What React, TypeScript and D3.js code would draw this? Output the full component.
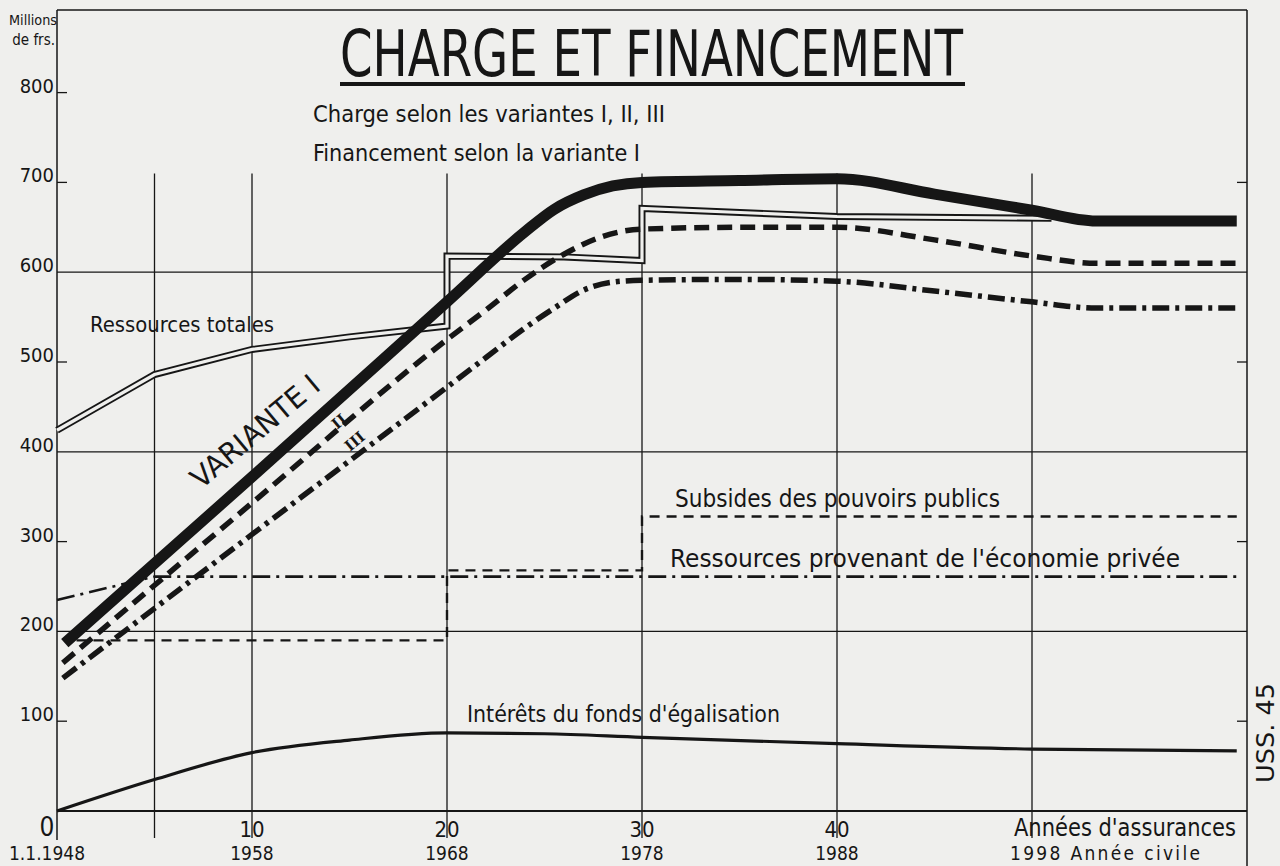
import * as d3 from "d3";

// axis ticks and labels
const yearTicks = [0, 10, 20, 30, 40];
const calendarLabels = ["1.1.1948", "1958", "1968", "1978", "1988"];
const yLabelTicks = [100, 200, 300, 400, 500, 600, 700, 800];
const gridRows = [0, 200, 400, 600];
const shortTicks = [100, 300, 500, 700, 800];
const rightTicks = [100, 300, 500, 700];
const gridCols = [5, 10, 20, 30, 40, 50];

// series: [année d'assurance, millions de frs.]
const varianteI: [number, number][] = [
  [0.4, 187], [10, 372], [20, 567], [24, 645], [25.5, 670], [27, 686], [28.5, 696],
  [30, 700], [35, 702], [40, 704], [45, 687], [50, 669], [53.3, 657], [60.5, 657],
];
const varianteII: [number, number][] = [
  [0.3, 165], [10, 343], [20, 525], [22, 558], [24, 592], [26, 620], [28, 640],
  [30, 648], [35, 650], [40, 650], [45, 636], [50, 618], [53.3, 610], [60.5, 610],
];
const varianteIII: [number, number][] = [
  [0.3, 148], [10, 308], [20, 472], [22, 505], [24, 538], [25.5, 560], [27, 580],
  [28.5, 589], [30, 591], [35, 592], [40, 590], [45, 579], [50, 567], [53.3, 560], [60.5, 560],
];
const ressourcesTotales: [number, number][] = [
  [0, 424], [5, 486], [10, 514], [15, 528], [20, 540], [20, 618], [26, 617],
  [30, 613], [30, 671], [40, 662], [51, 660],
];
const subsides: [number, number][] = [
  [1, 190], [20, 190], [20, 268], [30, 268], [30, 328], [60.5, 328],
];
const economiePrivee: [number, number][] = [
  [0, 235], [5, 261], [60.5, 261],
];
const interets: [number, number][] = [
  [0, 0], [5, 35], [10, 65], [15, 79], [20, 87], [25, 86], [30, 82],
  [40, 75], [50, 69], [60.5, 67],
];

const ink = "#161616";
const paper = "#efefed";
const font = "'DejaVu Sans Condensed', 'DejaVu Sans', sans-serif";

export default function App() {
  const x = d3.scaleLinear().domain([0, 10]).range([57, 252]);
  const y = d3.scaleLinear().domain([0, 800]).range([811, 92.6]);

  const smooth = d3
    .line<[number, number]>()
    .x((d) => x(d[0]))
    .y((d) => y(d[1]))
    .curve(d3.curveMonotoneX);
  const straight = d3
    .line<[number, number]>()
    .x((d) => x(d[0]))
    .y((d) => y(d[1]));

  const left = x(0);
  const right = 1247;
  const top = 10;

  return (
    <svg
      width={1280}
      height={866}
      style={{ position: "absolute", left: 0, top: 0, background: paper }}
      fontFamily={font}
      fill={ink}
    >
      <rect width={1280} height={866} fill={paper} />

      {/* frame */}
      <line x1={left} x2={right} y1={top} y2={top} stroke={ink} strokeWidth={1.5} />
      <line x1={left} x2={left} y1={top} y2={840} stroke={ink} strokeWidth={1.5} />
      <line x1={right} x2={right} y1={top} y2={866} stroke={ink} strokeWidth={1.5} />

      {/* grid */}
      {gridRows.map((v) => (
        <line key={v} x1={left} x2={right} y1={y(v)} y2={y(v)} stroke={ink} strokeWidth={v === 0 ? 1.8 : 1.3} />
      ))}
      {gridCols.map((t) => (
        <line key={t} x1={x(t)} x2={x(t)} y1={y(710)} y2={838} stroke={ink} strokeWidth={1.3} />
      ))}
      {shortTicks.map((v) => (
        <line key={v} x1={left} x2={left + 10} y1={y(v)} y2={y(v)} stroke={ink} strokeWidth={1.3} />
      ))}
      {rightTicks.map((v) => (
        <line key={v} x1={right - 10} x2={right} y1={y(v)} y2={y(v)} stroke={ink} strokeWidth={1.3} />
      ))}

      {/* y labels */}
      <text x={57} y={25} fontSize={14} textAnchor="end" textLength={48} lengthAdjust="spacingAndGlyphs">Millions</text>
      <text x={55} y={45} fontSize={15} textAnchor="end">de frs.</text>
      {yLabelTicks.map((v) => (
        <text key={v} x={54} y={y(v)} fontSize={20} textAnchor="end">{v}</text>
      ))}

      {/* x labels */}
      {yearTicks.map((t) => (
        <text key={t} x={t === 0 ? x(t) - 10 : x(t)} y={t === 0 ? 836 : 837} fontSize={t === 0 ? 26 : 22} textAnchor="middle">
          {t}
        </text>
      ))}
      {calendarLabels.map((c, i) => (
        <text key={c} x={i === 0 ? x(yearTicks[i]) - 10 : x(yearTicks[i])} y={860} fontSize={19} textAnchor="middle">
          {c}
        </text>
      ))}
      <text x={1236} y={836} fontSize={24} textAnchor="end" textLength={222} lengthAdjust="spacingAndGlyphs">Années d'assurances</text>
      <text x={1010} y={860} fontSize={19} textLength={190} lengthAdjust="spacing">1998  Année civile</text>

      {/* titles */}
      <text x={340} y={76} fontSize={64} textLength={623} lengthAdjust="spacingAndGlyphs">CHARGE ET FINANCEMENT</text>
      <rect x={340} y={82} width={625} height={4} fill={ink} />
      <text x={313} y={122} fontSize={23} textLength={352} lengthAdjust="spacingAndGlyphs">Charge selon les variantes I, II, III</text>
      <text x={313} y={161} fontSize={23} textLength={327} lengthAdjust="spacingAndGlyphs">Financement selon la variante I</text>

      {/* ressources totales: double line */}
      <path d={straight(ressourcesTotales) ?? ""} fill="none" stroke={ink} strokeWidth={7} strokeLinejoin="miter" />
      <path d={straight(ressourcesTotales) ?? ""} fill="none" stroke={paper} strokeWidth={3.2} strokeLinejoin="miter" />

      {/* financing lines */}
      <path d={straight(subsides) ?? ""} fill="none" stroke={ink} strokeWidth={2.4} strokeDasharray="10 7" />
      <path d={straight(economiePrivee) ?? ""} fill="none" stroke={ink} strokeWidth={2.6} strokeDasharray="18 6 3 6" />
      <path d={smooth(interets) ?? ""} fill="none" stroke={ink} strokeWidth={3.2} />

      {/* charge variants */}
      <path d={smooth(varianteIII) ?? ""} fill="none" stroke={ink} strokeWidth={5.5} strokeDasharray="17 6 4 6" strokeLinecap="butt" />
      <path d={smooth(varianteII) ?? ""} fill="none" stroke={ink} strokeWidth={5.5} strokeDasharray="15 8" />
      <path d={smooth(varianteI) ?? ""} fill="none" stroke={ink} strokeWidth={11} strokeLinejoin="round" />

      {/* series labels */}
      <text x={90} y={332} fontSize={22} textLength={184} lengthAdjust="spacingAndGlyphs">Ressources totales</text>
      <text transform="translate(201,490) rotate(-40)" fontSize={29} textLength={158} lengthAdjust="spacingAndGlyphs">VARIANTE I</text>
      <text transform="translate(337,430) rotate(-40)" fontSize={15} fontFamily="'DejaVu Serif', serif" fontWeight="bold">II</text>
      <text transform="translate(350,452) rotate(-40)" fontSize={15} fontFamily="'DejaVu Serif', serif" fontWeight="bold">III</text>
      <text x={675} y={507} fontSize={24} textLength={325} lengthAdjust="spacingAndGlyphs">Subsides des pouvoirs publics</text>
      <text x={670} y={567} fontSize={24} textLength={510} lengthAdjust="spacingAndGlyphs">Ressources provenant de l'économie privée</text>
      <text x={467} y={722} fontSize={23} textLength={313} lengthAdjust="spacingAndGlyphs">Intérêts du fonds d'égalisation</text>

      <text transform="translate(1274,783) rotate(-90)" fontSize={25} textLength={100} lengthAdjust="spacingAndGlyphs">USS. 45</text>
    </svg>
  );
}
